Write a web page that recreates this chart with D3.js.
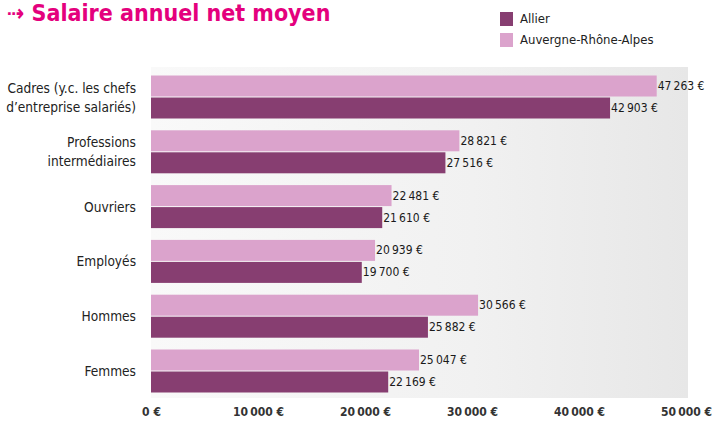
<!DOCTYPE html>
<html><head><meta charset="utf-8">
<script src="https://cdn.jsdelivr.net/npm/d3@7"></script>
<style>
body{margin:0;background:#fff;}
svg{display:block;}
</style></head>
<body>
<svg id="c" width="726" height="423"></svg>
<script>
const categories = ["Cadres (y.c. les chefs\nd’entreprise salariés)", "Professions\nintermédiaires", "Ouvriers", "Employés", "Hommes", "Femmes"];
const seriesNames = ["Auvergne-Rhône-Alpes", "Allier"];
const aura = [47263, 28821, 22481, 20939, 30566, 25047];
const allier = [42903, 27516, 21610, 19700, 25882, 22169];
const ticks = [0, 10000, 20000, 30000, 40000, 50000];
const colors = {"Allier": "#873e71", "Auvergne-Rhône-Alpes": "#dba3cc"};

const fmt = v => d3.format(",")(v).replace(/,/g, "\u202f") + " €";
const svg = d3.select("#c");
const x = d3.scaleLinear().domain([0, 50000]).range([151, 686]);
const y = d3.scaleBand().domain(d3.range(categories.length)).range([67, 401]).paddingInner(0.197).paddingOuter(0.146);
const sub = d3.scaleBand().domain(seriesNames).range([0, y.bandwidth()]);

const defs = svg.append("defs");
const g = defs.append("linearGradient").attr("id", "bg").attr("x1", 0).attr("x2", 1).attr("y1", 0).attr("y2", 0);
g.append("stop").attr("offset", "0").attr("stop-color", "#f9f9f9");
g.append("stop").attr("offset", "0.6").attr("stop-color", "#f1f1f1");
g.append("stop").attr("offset", "1").attr("stop-color", "#e7e7e7");

svg.append("rect").attr("x", x(0)).attr("y", 67).attr("width", x(50000) - x(0) + 2).attr("height", 331).attr("fill", "url(#bg)");

// title
svg.append("text").attr("x", 7).attr("y", 21).attr("fill", "#e4007d")
  .style("font-family", "'DejaVu Sans Condensed','DejaVu Sans',sans-serif").style("font-weight", "bold").style("font-size", "23px")
  .text("⇢ Salaire annuel net moyen");

// legend
const leg = [["Allier", 12], ["Auvergne-Rhône-Alpes", 33]];
leg.forEach(([n, ly]) => {
  svg.append("rect").attr("x", 500).attr("y", ly).attr("width", 13).attr("height", 14).attr("fill", colors[n]);
  svg.append("text").attr("x", 520).attr("y", ly + 11).attr("fill", "#222")
    .style("font-family", "'DejaVu Sans Condensed',sans-serif").style("font-size", "13px").text(n);
});

const rows = categories.map((c, i) => ({i, c, vals: [["Auvergne-Rhône-Alpes", aura[i]], ["Allier", allier[i]]]}));
const grp = svg.append("g").selectAll("g").data(rows).join("g").attr("transform", d => `translate(0,${y(d.i)})`);

grp.selectAll("rect").data(d => d.vals).join("rect")
  .attr("x", x(0)).attr("y", d => sub(d[0]) + 0.5).attr("width", d => x(d[1]) - x(0)).attr("height", sub.bandwidth() - 1)
  .attr("fill", d => colors[d[0]]);

grp.selectAll("text.v").data(d => d.vals).join("text").attr("class", "v")
  .attr("x", d => x(d[1]) + 1).attr("y", d => sub(d[0]) + sub.bandwidth() / 2 + 4)
  .attr("fill", "#1a1a1a").style("font-family", "'DejaVu Sans Condensed',sans-serif").style("font-size", "12px")
  .text(d => fmt(d[1]));

grp.each(function(d) {
  const lines = d.c.split("\n");
  const t = d3.select(this).append("text").attr("text-anchor", "end").attr("fill", "#222")
    .style("font-family", "'DejaVu Sans Condensed','DejaVu Sans',sans-serif").style("font-size", "13.6px");
  const mid = y.bandwidth() / 2;
  const lh = 19;
  lines.forEach((l, k) => {
    t.append("tspan").attr("x", 136).attr("y", mid + 5 + (k - (lines.length - 1) / 2) * lh).text(l);
  });
});

// x axis
const ax = svg.append("g").attr("transform", "translate(0,404)")
  .call(d3.axisBottom(x).tickValues(ticks).tickSize(0).tickFormat(fmt));
ax.select(".domain").remove();
ax.selectAll("text").attr("fill", "#333").style("font-family", "'DejaVu Sans Condensed',sans-serif")
  .style("font-size", "12px").style("font-weight", "bold");
</script>
</body></html>
